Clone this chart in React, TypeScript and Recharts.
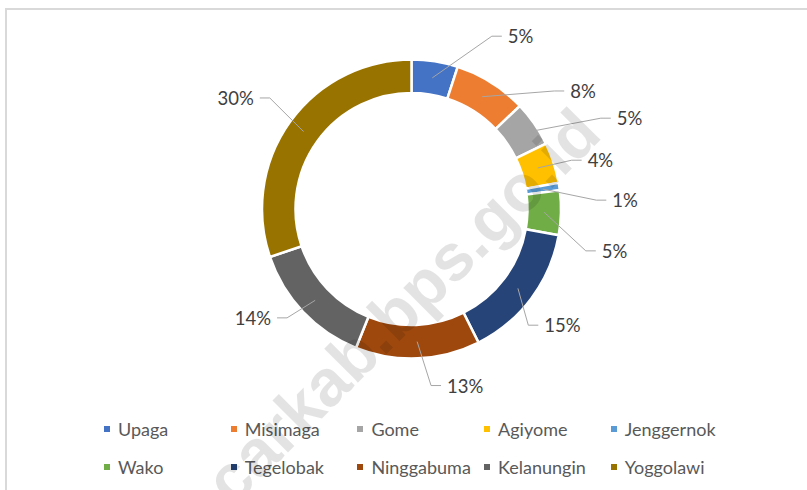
import { PieChart, Pie, Cell, Legend } from "recharts"

const districts = [
    "Upaga",
    "Misimaga",
    "Gome",
    "Agiyome",
    "Jenggernok",
    "Wako",
    "Tegelobak",
    "Ninggabuma",
    "Kelanungin",
    "Yoggolawi"
]

const shares = [5.0, 7.9, 4.9, 4.4, 0.8, 4.8, 14.8, 13.45, 13.75, 30.2]

const sliceColors = [
    "#4472C4",
    "#ED7D31",
    "#A5A5A5",
    "#FFC000",
    "#5B9BD5",
    "#70AD47",
    "#264478",
    "#9E480E",
    "#636363",
    "#997300"
]

// where Excel's best-fit put each data label (angle in degrees, distance from centre)
const labelAngle = [62.4, 37.7, 24.5, 16.0, 2.6, -12.8, -42.5, -80.5, -141, 143.8]
const labelDist = [195, 193, 219, 177, 195, 189, 172, 179, 173, 188]

const chartData = districts.map((name, i) => ({ name, value: shares[i] }))

const RAD = Math.PI / 180
const FONT = "Lato, 'Open Sans', sans-serif"

const polar = (cx: number, cy: number, r: number, angle: number) => ({
    x: cx + Math.cos(-angle * RAD) * r,
    y: cy + Math.sin(-angle * RAD) * r
})

function renderLabel(props: any) {
    const { cx, cy, midAngle, innerRadius, outerRadius, index, value } = props
    const start = polar(cx, cy, (innerRadius + outerRadius) / 2, midAngle)
    const end = polar(cx, cy, labelDist[index], labelAngle[index])
    const dir = Math.cos(labelAngle[index] * RAD) >= 0 ? 1 : -1
    const bendX = end.x - 10 * dir
    return (
        <g key={`lbl-${index}`}>
            <path
                d={`M${start.x},${start.y}L${bendX},${end.y}L${end.x},${end.y}`}
                stroke="#A6A6A6"
                strokeWidth={1}
                fill="none"
            />
            <text
                x={end.x + 6 * dir}
                y={end.y}
                textAnchor={dir > 0 ? "start" : "end"}
                dominantBaseline="central"
                fill="#404040"
                fontSize={18.5}
                fontFamily={FONT}
            >
                {`${Math.round(value)}%`}
            </text>
        </g>
    )
}

function LegendGrid({ payload }: any) {
    // keep the series order, whatever order the legend payload arrives in
    const items = districts.map((d, i) => {
        const hit = (payload || []).find((p: any) => p.value === d)
        return { value: d, color: hit?.color || sliceColors[i] }
    })
    return (
        <div
            style={{
                display: "grid",
                gridTemplateColumns: "repeat(5, 126.7px)",
                gridAutoRows: "38px",
                paddingLeft: 104,
                fontFamily: FONT,
                fontSize: 18,
                color: "#595959"
            }}
        >
            {items.map((it, i) => (
                <div
                    key={i}
                    style={{ display: "flex", alignItems: "center", whiteSpace: "nowrap" }}
                >
                    <span
                        style={{
                            width: 6,
                            height: 6,
                            background: it.color,
                            marginRight: 8,
                            flex: "none"
                        }}
                    />
                    {it.value}
                </div>
            ))}
        </div>
    )
}

export default function App() {
    return (
        <div
            style={{
                position: "absolute",
                left: 0,
                top: 0,
                width: 807,
                height: 490,
                background: "#fff",
                overflow: "hidden"
            }}
        >
            <div
                style={{
                    position: "absolute",
                    left: 5,
                    top: 8,
                    width: 900,
                    height: 600,
                    border: "2px solid #D9D9D9"
                }}
            />
            <div style={{ position: "absolute", left: 0, top: 0 }}>
                <PieChart
                    width={807}
                    height={490}
                    margin={{ top: 0, right: 0, bottom: 0, left: 0 }}
                >
                    <Pie
                        data={chartData}
                        dataKey="value"
                        nameKey="name"
                        cx={411.5}
                        cy={209}
                        innerRadius={116}
                        outerRadius={149.5}
                        startAngle={90}
                        endAngle={-270}
                        stroke="#fff"
                        strokeWidth={2.5}
                        label={renderLabel}
                        labelLine={false}
                        legendType="square"
                        isAnimationActive={false}
                    >
                        {chartData.map((d, i) => (
                            <Cell key={d.name} fill={sliceColors[i]} />
                        ))}
                    </Pie>
                    <Legend
                        content={<LegendGrid />}
                        wrapperStyle={{ position: "absolute", left: 0, top: 410, width: 807 }}
                    />
                </PieChart>
            </div>
            <svg
                width={807}
                height={490}
                style={{ position: "absolute", left: 0, top: 0, pointerEvents: "none" }}
            >
                <text
                    x={402}
                    y={306}
                    textAnchor="middle"
                    dominantBaseline="central"
                    transform="rotate(-45 402 306)"
                    fontFamily="'Liberation Sans', Arial, sans-serif"
                    fontWeight="bold"
                    fontSize={66}
                    fill="#000"
                    fillOpacity={0.11}
                >
                    carkab.bps.go.id
                </text>
            </svg>
        </div>
    )
}
